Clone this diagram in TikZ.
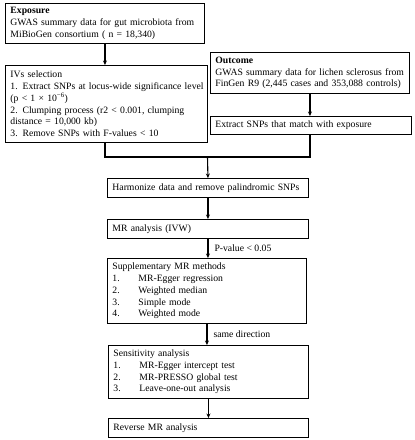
\documentclass[tikz,border=0pt]{standalone}
\usepackage{fontspec}
\setmainfont{Liberation Serif}
\usetikzlibrary{arrows.meta}
\begin{document}
\begin{tikzpicture}[x=1pt,y=-1pt,
  box/.style={draw, line width=0.9pt, anchor=north west, inner xsep=5pt, inner ysep=1pt,
    align=left, font=\fontsize{9.7}{11.8}\selectfont},
  arr/.style={line width=1.1pt, -{Stealth[length=4.5pt,width=4pt]}},
  ln/.style={line width=1.1pt},
  lbl/.style={anchor=west, inner sep=1pt, font=\fontsize{9.7}{11.8}\selectfont}]
\useasboundingbox (0,0) rectangle (415,440);
\newcommand{\itm}[2]{\mbox{\makebox[26pt][l]{#1}#2}}
\newcommand{\tl}[1]{\mbox{#1}}
\node[box, minimum width=199pt, minimum height=40pt, text width=189pt] (exp) at (5,3)
  {\tl{\textbf{Exposure}}\\\tl{GWAS summary data for gut microbiota from}\\\tl{MiBioGen consortium ( n = 18,340)}};
\node[box, minimum width=202pt, minimum height=77pt, text width=192pt] (ivs) at (5,65)
  {\tl{IVs selection}\\\tl{1. Extract SNPs at locus-wide significance level}\\\tl{(p < 1 × 10\textsuperscript{−6})}\\\tl{2. Clumping process (r2 < 0.001, clumping}\\\tl{distance = 10,000 kb)}\\\tl{3. Remove SNPs with F-values < 10}};
\node[box, minimum width=199pt, minimum height=41pt, text width=189pt] (out) at (210,52)
  {\tl{\textbf{Outcome}}\\\tl{GWAS summary data for lichen sclerosus from}\\\tl{FinGen R9 (2,445 cases and 353,088 controls)}};
\node[box, minimum width=201pt, minimum height=18pt, text width=191pt] (ext) at (210,116)
  {\tl{Extract SNPs that match with exposure}};
\node[box, minimum width=201pt, minimum height=19pt, text width=191pt] (harm) at (107,178)
  {\tl{Harmonize data and remove palindromic SNPs}};
\node[box, minimum width=201pt, minimum height=19pt, text width=191pt] (mr) at (107,219)
  {\tl{MR analysis (IVW)}};
\node[box, minimum width=199pt, minimum height=65pt, text width=189pt] (sup) at (107,258)
  {\tl{Supplementary MR methods}\\\itm{1.}{MR-Egger regression}\\\itm{2.}{Weighted median}\\\itm{3.}{Simple mode}\\\itm{4.}{Weighted mode}};
\node[box, minimum width=200pt, minimum height=53pt, text width=190pt] (sens) at (108,345)
  {\tl{Sensitivity analysis}\\\itm{1.}{MR-Egger intercept test}\\\itm{2.}{MR-PRESSO global test}\\\itm{3.}{Leave-one-out analysis}};
\node[box, minimum width=200pt, minimum height=19pt, text width=190pt] (rev) at (108,418)
  {\tl{Reverse MR analysis}};
\coordinate (jl) at (105,157);
\coordinate (jr) at (310,157);
\coordinate (jm) at (207.5,157);
\draw[arr] (exp.south) -- (exp.south |- ivs.north);
\draw[arr] (out.south) -- (out.south |- ext.north);
\draw[ln] (ivs.south -| jl) -- (jl) -- (jr) -- (ext.south -| jr);
\draw[arr] (jm) -- (harm.north);
\draw[arr] (harm.south) -- (mr.north);
\draw[arr] (mr.south) -- (mr.south |- sup.north) node[lbl, midway, xshift=5pt] (p) {P-value < 0.05};
\draw[arr] (sup.south) -- (sup.south |- sens.north) node[lbl, midway, xshift=5pt] (sd) {same direction};
\draw[arr] (sens.south) -- (rev.north);
\end{tikzpicture}
\end{document}
